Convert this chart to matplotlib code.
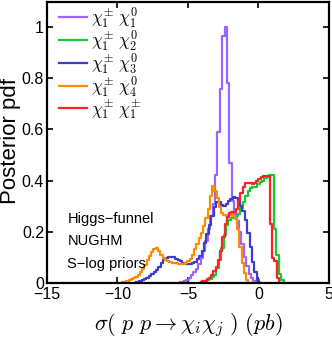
import numpy as np
import matplotlib.pyplot as plt

# log10 sigma (pb) bin centres and posterior pdf heights
x_c1n1 = [-5.55, -5.38, -5.21, -5.04, -4.87, -4.70, -4.53, -4.36, -4.19, -4.02,
          -3.85, -3.68, -3.51, -3.34, -3.17, -3.00, -2.83, -2.66, -2.49, -2.32,
          -2.15, -1.98, -1.81, -1.64, -1.47, -1.30, -1.13, -0.96, -0.79, -0.62,
          -0.45, -0.28, -0.11]
y_c1n1 = [0.002, 0.004, 0.008, 0.012, 0.02, 0.03, 0.04, 0.055, 0.075, 0.095,
          0.125, 0.165, 0.21, 0.26, 0.31, 0.42, 0.59, 0.76, 0.966, 1.0,
          0.78, 0.47, 0.32, 0.27, 0.24, 0.20, 0.15, 0.10, 0.065, 0.035,
          0.018, 0.006, 0.0]

x_c1n2 = [-3.92, -3.75, -3.58, -3.41, -3.24, -3.07, -2.90, -2.73, -2.56, -2.39,
          -2.22, -2.05, -1.88, -1.71, -1.54, -1.37, -1.20, -1.03, -0.86, -0.69,
          -0.52, -0.35, -0.17, 0.00, 0.17, 0.34, 0.51, 0.68, 0.85, 1.02,
          1.19, 1.36, 1.53, 1.70, 1.87]
y_c1n2 = [0.003, 0.006, 0.01, 0.015, 0.022, 0.032, 0.056, 0.09, 0.135, 0.185,
          0.225, 0.245, 0.255, 0.26, 0.262, 0.27, 0.294, 0.315, 0.34, 0.36,
          0.372, 0.376, 0.376, 0.385, 0.395, 0.40, 0.41, 0.413, 0.42, 0.42,
          0.21, 0.11, 0.035, 0.01, 0.0]

x_c1n3 = [-8.70, -8.53, -8.36, -8.19, -8.02, -7.85, -7.68, -7.51, -7.34, -7.17,
          -7.00, -6.83, -6.66, -6.49, -6.32, -6.15, -5.98, -5.81, -5.64, -5.47,
          -5.30, -5.13, -4.96, -4.79, -4.62, -4.45, -4.28, -4.11, -3.94, -3.77,
          -3.60, -3.43, -3.26, -3.09, -2.92, -2.75, -2.58, -2.41, -2.24, -2.07,
          -1.90, -1.73, -1.56, -1.39, -1.22, -1.05, -0.88, -0.71, -0.54, -0.37,
          -0.20, -0.03, 0.14]
y_c1n3 = [0.002, 0.004, 0.007, 0.01, 0.014, 0.019, 0.025, 0.033, 0.041, 0.05,
          0.062, 0.076, 0.088, 0.096, 0.101, 0.102, 0.099, 0.094, 0.089, 0.083,
          0.078, 0.074, 0.072, 0.072, 0.076, 0.082, 0.092, 0.105, 0.125, 0.155,
          0.19, 0.225, 0.26, 0.295, 0.314, 0.314, 0.305, 0.302, 0.308, 0.318,
          0.328, 0.334, 0.33, 0.316, 0.30, 0.28, 0.245, 0.195, 0.14, 0.08,
          0.04, 0.012, 0.0]

x_c1n4 = [-9.76, -9.60, -9.44, -9.28, -9.12, -8.96, -8.80, -8.64, -8.48, -8.32,
          -8.16, -8.00, -7.84, -7.68, -7.52, -7.36, -7.20, -7.04, -6.88, -6.72,
          -6.56, -6.40, -6.24, -6.08, -5.92, -5.76, -5.60, -5.44, -5.28, -5.12,
          -4.96, -4.80, -4.64, -4.48, -4.32, -4.16, -4.00, -3.84, -3.68, -3.52,
          -3.36, -3.20, -3.04, -2.88, -2.72, -2.56, -2.40, -2.24, -2.08, -1.92,
          -1.76, -1.60, -1.44, -1.28, -1.12, -0.96, -0.80, -0.64]
y_c1n4 = [0.0, 0.002, 0.004, 0.006, 0.01, 0.013, 0.018, 0.023, 0.03, 0.04,
          0.055, 0.07, 0.088, 0.105, 0.12, 0.131, 0.136, 0.125, 0.108, 0.097,
          0.089, 0.084, 0.081, 0.079, 0.077, 0.076, 0.075, 0.073, 0.074, 0.077,
          0.083, 0.093, 0.108, 0.13, 0.15, 0.175, 0.195, 0.22, 0.255, 0.29,
          0.34, 0.38, 0.36, 0.33, 0.295, 0.272, 0.265, 0.262, 0.265, 0.27,
          0.26, 0.25, 0.21, 0.14, 0.077, 0.037, 0.012, 0.0]

x_c1c1 = [-4.08, -3.92, -3.76, -3.60, -3.44, -3.28, -3.12, -2.96, -2.80, -2.64,
          -2.48, -2.32, -2.16, -2.00, -1.84, -1.68, -1.52, -1.36, -1.20, -1.04,
          -0.88, -0.72, -0.56, -0.40, -0.24, -0.08, 0.08, 0.24, 0.40, 0.56,
          0.72, 0.88, 1.04, 1.20, 1.36, 1.52]
y_c1c1 = [0.002, 0.005, 0.008, 0.013, 0.02, 0.03, 0.045, 0.063, 0.09, 0.125,
          0.18, 0.23, 0.258, 0.272, 0.278, 0.276, 0.29, 0.32, 0.35, 0.375,
          0.39, 0.392, 0.39, 0.387, 0.392, 0.40, 0.405, 0.412, 0.418, 0.418,
          0.416, 0.23, 0.095, 0.085, 0.017, 0.0]

series = [
    (x_c1n1, y_c1n1, '#9966ff', r'$\chi_1^{\pm}\ \chi_1^0$'),
    (x_c1n2, y_c1n2, '#11cc33', r'$\chi_1^{\pm}\ \chi_2^0$'),
    (x_c1n3, y_c1n3, '#3d3dc8', r'$\chi_1^{\pm}\ \chi_3^0$'),
    (x_c1n4, y_c1n4, '#ff8c00', r'$\chi_1^{\pm}\ \chi_4^0$'),
    (x_c1c1, y_c1c1, '#ff2222', r'$\chi_1^{\pm}\ \chi_1^{\pm}$'),
]

plt.rcParams['font.family'] = ['Liberation Sans', 'DejaVu Sans']
plt.rcParams['mathtext.fontset'] = 'cm'

fig = plt.figure(figsize=(3.32, 3.46), dpi=100)
ax = fig.add_axes([0.141, 0.183, 0.85, 0.812])

for xs, ys, col, lab in series:
    ax.step(xs, ys, where='mid', color=col, lw=1.6, label=lab)

ax.set_xlim(-15, 5)
ax.set_ylim(0, 1.1)
ax.set_xticks([-15, -10, -5, 0, 5])
ax.set_yticks([0, 0.2, 0.4, 0.6, 0.8, 1])
ax.set_yticklabels(['0', '0.2', '0.4', '0.6', '0.8', '1'])
ax.tick_params(direction='in', top=True, right=True, length=4, width=1.2,
               labelsize=11.5, pad=2)
ax.tick_params(axis='x', pad=3)
for s in ax.spines.values():
    s.set_linewidth(1.6)

# axis titles
ax.set_ylabel('Posterior pdf', fontsize=16, va='center')
ax.yaxis.set_label_coords(-0.128, 0.505)
ax.set_xlabel(r'$\sigma(\ p\ p \rightarrow \chi_i\chi_j\ )\ (pb)$',
              fontsize=16, va='center')
ax.xaxis.set_label_coords(0.5, -0.15)

ax.legend(loc='upper left', frameon=False, fontsize=12.5, handlelength=1.6,
          handletextpad=0.2, labelspacing=-0.1, borderaxespad=0.0,
          bbox_to_anchor=(0.02, 1.012))

ax.text(-13.55, 0.249, 'Higgs\u2212funnel', fontsize=10.5, va='center')
ax.text(-13.55, 0.163, 'NUGHM', fontsize=10.5, va='center')
ax.text(-13.55, 0.073, 'S\u2212log priors', fontsize=10.5, va='center')

fig.savefig('out.png', dpi=100)
